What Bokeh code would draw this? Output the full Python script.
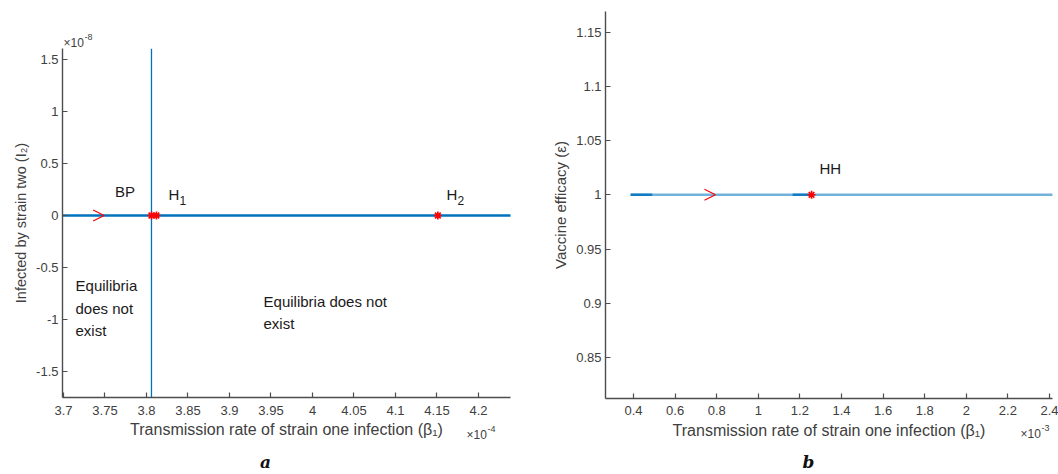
from bokeh.plotting import figure
from bokeh.layouts import row
from bokeh.models import Range1d, FixedTicker, CustomJSTickFormatter, Arrow, OpenHead, ColumnDataSource
from bokeh.core.properties import value
from bokeh.embed import file_html
from bokeh.resources import INLINE

FONT = "Liberation Sans"
AX_COL = "#4d4d4d"
TXT_COL = "#404040"
BLUE = "#0072BD"

# ---------------- Panel a (x in units of 1e-4, y in units of 1e-8) ----------------
a_xlim = [3.6988, 4.2386]
a_ylim = [-1.75, 1.6]
a_x_ticks = [3.7, 3.75, 3.8, 3.85, 3.9, 3.95, 4.0, 4.05, 4.1, 4.15, 4.2]
a_y_ticks = [-1.5, -1.0, -0.5, 0.0, 0.5, 1.0, 1.5]
a_branch_x = [3.6988, 4.2386]      # I2 = 0 equilibrium branch
a_branch_y = [0.0, 0.0]
a_bp_line_x = [3.806, 3.806]       # branch through BP
a_bp_line_y = [-1.75, 1.6]
a_pts_x = [3.806, 3.812, 4.151]    # BP, H1, H2
a_pts_y = [0.0, 0.0, 0.0]
a_lbl_text = ["BP", "H", "H"]
a_lbl_sub = ["", "1", "2"]
a_lbl_x = [3.762, 3.8265, 4.1614]
a_lbl_y = [0.23, 0.2, 0.2]
a_arrow_x = [3.749]
a_arrow_y = [0.0]
a_note_text = ["Equilibria\ndoes not\nexist", "Equilibria does not\nexist"]
a_note_x = [3.7145, 3.941]
a_note_y = [-0.89, -0.93]
a_exp_text = ["\u00d710", "\u00d710"]
a_exp_sup = ["-8", "-4"]
a_exp_x = [3.7, 4.1855]
a_exp_y = [1.66, -2.102]
a_letter_x = [3.9434]
a_letter_y = [-2.370]

# ---------------- Panel b (x in units of 1e-3) ----------------
b_xlim = [0.2654, 2.414]
b_ylim = [0.8123, 1.1693]
b_x_ticks = [0.4, 0.6, 0.8, 1.0, 1.2, 1.4, 1.6, 1.8, 2.0, 2.2, 2.4]
b_y_ticks = [0.85, 0.9, 0.95, 1.0, 1.05, 1.1, 1.15]
b_branch_x = [0.386, 2.414]
b_branch_y = [1.0, 1.0]
b_dark_x = [[0.386, 0.49], [1.165, 1.25]]
b_dark_y = [[1.0, 1.0], [1.0, 1.0]]
b_pts_x = [1.256]                  # HH
b_pts_y = [1.0]
b_lbl_text = ["HH"]
b_lbl_x = [1.294]
b_lbl_y = [1.0242]
b_arrow_x = [0.794]
b_arrow_y = [1.0]
b_exp_text = ["\u00d710"]
b_exp_sup = ["-3"]
b_exp_x = [2.2606]
b_exp_y = [0.7791]
b_letter_x = [1.2413]
b_letter_y = [0.7533]

fmt = CustomJSTickFormatter(code="return String(parseFloat(tick.toFixed(4)));")


def make_fig(width, xrng, yrng, xlim, ylim, xticks, yticks, xlabel, ylabel, ylab_size):
    p = figure(width=width, height=474, min_border=0, output_backend="svg",
               toolbar_location=None, x_range=Range1d(*xrng), y_range=Range1d(*yrng),
               background_fill_color="white", border_fill_color="white")
    p.outline_line_color = None
    p.xgrid.grid_line_color = None
    p.ygrid.grid_line_color = None
    p.xaxis.fixed_location = ylim[0]
    p.yaxis.fixed_location = xlim[0]
    p.xaxis.bounds = tuple(xlim)
    p.yaxis.bounds = tuple(ylim)
    p.xaxis.ticker = FixedTicker(ticks=xticks)
    p.yaxis.ticker = FixedTicker(ticks=yticks)
    for ax in (p.xaxis, p.yaxis):
        ax.formatter = fmt
        ax.axis_line_color = AX_COL
        ax.axis_line_width = 1.4
        ax.major_tick_line_color = AX_COL
        ax.major_tick_line_width = 1.2
        ax.major_tick_in = 5
        ax.major_tick_out = 0
        ax.minor_tick_line_color = None
        ax.major_label_text_font = FONT
        ax.major_label_text_font_size = "13px"
        ax.major_label_text_color = TXT_COL
        ax.axis_label_text_font = FONT
        ax.axis_label_text_font_style = "normal"
        ax.axis_label_text_color = TXT_COL
    p.xaxis.axis_label = xlabel
    p.yaxis.axis_label = ylabel
    p.xaxis.axis_label_text_font_size = "16px"
    p.yaxis.axis_label_text_font_size = ylab_size
    p.xaxis.major_label_standoff = 8
    p.xaxis.axis_label_standoff = 3
    p.yaxis.major_label_standoff = 4
    p.yaxis.axis_label_standoff = 4
    return p


def add_exp(p, xs, ys, base, sup):
    p.text(x=xs, y=ys, text=base, text_font=value(FONT), text_font_size="12px",
           text_color=TXT_COL, text_baseline="middle")
    p.text(x=xs, y=ys, text=sup, text_font=value(FONT), text_font_size="9px",
           text_color=TXT_COL, text_baseline="middle", x_offset=21, y_offset=-6)


def add_letter(p, xs, ys, txt):
    p.text(x=xs, y=ys, text=[txt], text_font=value("DejaVu Serif"), text_font_size="17px",
           text_font_style="bold italic", text_color="#111111",
           text_align="center", text_baseline="middle")


# ---------------- figure a ----------------
# full canvas 530 px: 830 px per x unit, 104.2 px per y unit
pa = make_fig(530, (3.62410, 4.26265), (-2.4856, 2.0633), a_xlim, a_ylim,
              a_x_ticks, a_y_ticks,
              "Transmission rate of strain one infection (\u03b2\u2081)",
              "Infected by strain two (I\u2082)", "14.5px")

pa.line(a_branch_x, a_branch_y, line_color=BLUE, line_width=2.4)
pa.line(a_bp_line_x, a_bp_line_y, line_color=BLUE, line_width=1.3)
pa.scatter(a_pts_x, a_pts_y, marker="asterisk", size=8, line_color="red", line_width=1.6)
for ax_, ay_ in zip(a_arrow_x, a_arrow_y):
    pa.add_layout(Arrow(end=OpenHead(size=11, line_color="red", line_width=1.2),
                        x_start=ax_ - 0.002, y_start=ay_, x_end=ax_, y_end=ay_,
                        line_alpha=0))

src_a = ColumnDataSource(dict(x=a_lbl_x, y=a_lbl_y, t=a_lbl_text, s=a_lbl_sub))
pa.text(x="x", y="y", text="t", source=src_a, text_font=value(FONT),
        text_font_size="15px", text_color="#1a1a1a", text_baseline="middle")
pa.text(x="x", y="y", text="s", source=src_a, text_font=value(FONT),
        text_font_size="12px", text_color="#1a1a1a", text_baseline="middle",
        x_offset=11, y_offset=6)
pa.text(x=a_note_x, y=a_note_y, text=a_note_text, text_font=value(FONT),
        text_font_size="15px", text_color="#1a1a1a", text_baseline="middle",
        text_line_height=1.33)
add_exp(pa, a_exp_x, a_exp_y, a_exp_text, a_exp_sup)
add_letter(pa, a_letter_x, a_letter_y, "a")

# ---------------- figure b ----------------
# full canvas 528 px: 208 px per x unit, 1085 px per y unit
pb = make_fig(528, (-0.09519, 2.4433), (0.74221, 1.17908), b_xlim, b_ylim,
              b_x_ticks, b_y_ticks,
              "Transmission rate of strain one infection (\u03b2\u2081)",
              "Vaccine efficacy (\u03b5)", "15px")

pb.line(b_branch_x, b_branch_y, line_color=BLUE, line_width=2.4, line_alpha=0.55)
pb.multi_line(b_dark_x, b_dark_y, line_color=BLUE, line_width=2.4, line_alpha=0.85)
pb.scatter(b_pts_x, b_pts_y, marker="asterisk", size=8, line_color="red", line_width=1.6)
for bx_, by_ in zip(b_arrow_x, b_arrow_y):
    pb.add_layout(Arrow(end=OpenHead(size=11, line_color="red", line_width=1.2),
                        x_start=bx_ - 0.005, y_start=by_, x_end=bx_, y_end=by_,
                        line_alpha=0))
pb.text(x=b_lbl_x, y=b_lbl_y, text=b_lbl_text, text_font=value(FONT),
        text_font_size="15px", text_color="#1a1a1a", text_baseline="middle")
add_exp(pb, b_exp_x, b_exp_y, b_exp_text, b_exp_sup)
add_letter(pb, b_letter_x, b_letter_y, "b")

layout = row(pa, pb)
open("out.html", "w").write(file_html(layout, INLINE))
